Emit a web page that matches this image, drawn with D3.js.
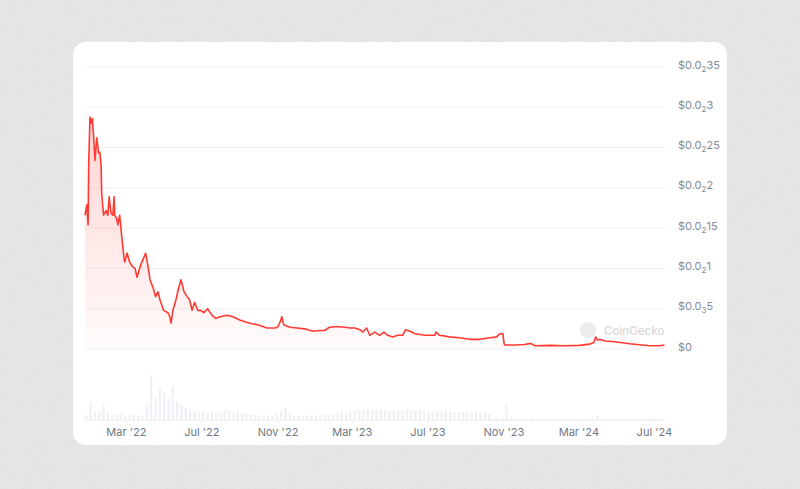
<!DOCTYPE html>
<html>
<head>
<meta charset="utf-8">
<script src="https://cdn.jsdelivr.net/npm/d3@7"></script>
<style>
  html, body { margin: 0; padding: 0; background: #e8e8e8; }
  svg { display: block; }
  text { font-family: Inter, "Noto Sans", sans-serif; }
</style>
</head>
<body>
<div class="vis"></div>
<script>
// price points (date, USD)
const priceDates = [
  '2021-12-25','2021-12-28','2021-12-30','2021-12-31','2022-01-02','2022-01-04','2022-01-06','2022-01-08',
  '2022-01-10','2022-01-13','2022-01-16','2022-01-18','2022-01-20','2022-01-21','2022-01-24','2022-01-28',
  '2022-01-31','2022-02-02','2022-02-05','2022-02-08','2022-02-10','2022-02-11','2022-02-14','2022-02-16',
  '2022-02-19','2022-02-21','2022-02-23','2022-02-26','2022-02-27','2022-03-03','2022-03-07','2022-03-12',
  '2022-03-16','2022-03-19','2022-03-24','2022-03-28','2022-04-02','2022-04-06','2022-04-09','2022-04-14',
  '2022-04-18','2022-04-22','2022-04-25','2022-05-01','2022-05-08','2022-05-11','2022-05-13','2022-05-16',
  '2022-05-21','2022-05-24','2022-05-29','2022-06-03','2022-06-08','2022-06-12','2022-06-16','2022-06-20',
  '2022-06-25','2022-06-30','2022-07-05','2022-07-11','2022-07-18','2022-07-24','2022-07-31','2022-08-11',
  '2022-08-21','2022-09-01','2022-09-17','2022-09-30','2022-10-15','2022-10-28','2022-11-01','2022-11-05',
  '2022-11-08','2022-11-11','2022-11-21','2022-12-02','2022-12-15','2022-12-28','2023-01-08','2023-01-16',
  '2023-01-24','2023-02-05','2023-02-18','2023-02-26','2023-03-06','2023-03-14','2023-03-19','2023-03-25',
  '2023-03-30','2023-04-07','2023-04-15','2023-04-22','2023-04-28','2023-05-06','2023-05-14','2023-05-22',
  '2023-05-27','2023-06-03','2023-06-11','2023-06-27','2023-07-13','2023-07-15','2023-07-21','2023-08-06',
  '2023-08-22','2023-09-08','2023-09-24','2023-10-10','2023-10-21','2023-10-26','2023-10-31','2023-11-02',
  '2023-11-03','2023-11-19','2023-12-05','2023-12-15','2023-12-22','2024-01-15','2024-02-08','2024-03-03',
  '2024-03-19','2024-03-26','2024-03-29','2024-04-01','2024-04-05','2024-04-13','2024-04-29','2024-05-23',
  '2024-06-24','2024-07-10','2024-07-18'
];
const priceValues = [
  0.00166,0.00179,0.00154,0.00230,0.00288,0.00280,0.00286,0.00263,
  0.00234,0.00262,0.00243,0.00244,0.00228,0.00193,0.00166,0.00172,
  0.00166,0.00189,0.00169,0.00166,0.00189,0.00166,0.00162,0.00154,
  0.00166,0.00150,0.00135,0.00113,0.00108,0.00119,0.00108,0.00102,
  0.00100,0.00089,0.00102,0.00110,0.00119,0.00102,0.00086,0.00076,
  0.00065,0.00071,0.00061,0.00048,0.00045,0.00040,0.00032,0.00048,
  0.00061,0.00072,0.00086,0.00071,0.00065,0.00061,0.00048,0.00058,
  0.00048,0.00048,0.00045,0.00050,0.00042,0.00038,0.00040,0.00042,
  0.00040,0.00036,0.00032,0.00030,0.00026,0.00026,0.00027,0.00033,
  0.00040,0.00030,0.00027,0.00026,0.00025,0.00022,0.00023,0.00023,
  0.00027,0.00028,0.00027,0.00026,0.00026,0.00024,0.00021,0.00026,
  0.00017,0.00021,0.00017,0.00021,0.00017,0.00015,0.00017,0.00017,
  0.00024,0.00022,0.00019,0.00017,0.00017,0.00021,0.00017,0.00015,
  0.00014,0.00012,0.00012,0.00014,0.00015,0.00019,0.00019,0.00007,
  0.00005,0.00005,0.000055,0.00007,0.00004,0.000045,0.00004,0.000045,
  0.00006,0.00008,0.00015,0.00011,0.00012,0.00010,0.00009,0.000065,
  0.00004,0.00004,0.00005
];

// weekly volume (relative units), starting week of 2021-12-25
const volumeStart = '2021-12-25';
const volumeValues = [
  5,18,8,9,14,8,6,5,6,4, 5,7,5,4,14,45,22,33,27,22,
  33,18,14,12,10,9,8,9,8,10, 8,7,9,9,7,8,6,6,5,5,
  5,4,5,4,6,9,12,6,4,4, 4,4,5,4,5,5,5,6,7,8,
  8,9,9,9,10,11,10,10,11,10, 9,10,10,11,10,9,9,10,9,9,
  8,9,8,9,8,8,8,8,8,7, 8,7,8,6,2,2,2,15,2,1.5,
  1.5,1.5,1.5,3,1.5,1.5,1.5,1.5,1.5,1.5, 1.5,1.5,1.5,1.5,1.5,1.5,1.5,1.5,4,2,
  1.5,1.5,1.5,1.5,1.5,1.5,1.5,1.5,1.5,1.5, 1.5,1.5,1.5,1.5
];

const yTicks = [0, 0.0005, 0.001, 0.0015, 0.002, 0.0025, 0.003, 0.0035];
const xTickDates = ['2022-03-01','2022-07-01','2022-11-01','2023-03-01','2023-07-01','2023-11-01','2024-03-01','2024-07-01'];

const parse = d3.timeParse('%Y-%m-%d');
const W = 800, H = 489;

const svg = d3.select('.vis').append('svg')
    .attr('width', W)
    .attr('height', H);

const defs = svg.append('defs');

// paper texture for the background
const noise = defs.append('filter').attr('id', 'paper')
    .attr('x', 0).attr('y', 0).attr('width', '100%').attr('height', '100%');
noise.append('feTurbulence').attr('type', 'fractalNoise').attr('baseFrequency', 0.75).attr('numOctaves', 3).attr('seed', 7);
noise.append('feColorMatrix').attr('type', 'matrix')
    .attr('values', '0 0 0 0 0.5  0 0 0 0 0.5  0 0 0 0 0.5  0 0 0 0.9 -0.3');

svg.append('rect').attr('width', W).attr('height', H).attr('fill', '#e7e7e7');
svg.append('rect').attr('width', W).attr('height', H).attr('filter', 'url(#paper)').attr('opacity', 0.35);

// card
svg.append('rect')
    .attr('x', 73).attr('y', 42)
    .attr('width', 654).attr('height', 403)
    .attr('rx', 13)
    .attr('fill', '#ffffff');

const x = d3.scaleTime()
    .domain([parse('2021-12-25'), parse('2024-07-19')])
    .range([85, 665]);
const y = d3.scaleLinear()
    .domain([0, 0.0035])
    .range([349, 67]);
const yVol = d3.scaleLinear()
    .domain([0, d3.max(volumeValues)])
    .range([420, 375]);

// gridlines
svg.append('g').selectAll('line')
    .data(yTicks)
    .enter().append('line')
    .attr('x1', 85).attr('x2', 665)
    .attr('y1', d => y(d)).attr('y2', d => y(d))
    .attr('stroke', '#eff1f4')
    .attr('stroke-width', 1);

// y labels with subscript zero count
const splitLabel = (v) => {
    if (v === 0) return null;
    const dec = v.toFixed(6).replace(/0+$/, '').split('.')[1];
    const zeros = dec.match(/^0*/)[0].length;
    return {zeros: zeros, rest: dec.slice(zeros)};
};
const yLab = svg.append('g').selectAll('text')
    .data(yTicks)
    .enter().append('text')
    .attr('x', 678)
    .attr('y', d => y(d) + 1.5)
    .attr('font-size', 11)
    .attr('fill', '#828a97');
yLab.each(function (d) {
    const t = d3.select(this);
    const p = splitLabel(d);
    if (!p) { t.text('$0'); return; }
    t.append('tspan').text('$0.0');
    t.append('tspan').attr('font-size', 8).attr('dy', 3).text(p.zeros);
    t.append('tspan').attr('dy', -3).text(p.rest);
});

// volume bars
const volStart = parse(volumeStart);
const volData = volumeValues.map((v, i) => ({date: d3.timeDay.offset(volStart, i * 7), v: v}));
const barW = (x(d3.timeDay.offset(volStart, 7)) - x(volStart)) * 0.55;
svg.append('g').selectAll('rect')
    .data(volData)
    .enter().append('rect')
    .attr('x', d => x(d.date))
    .attr('width', barW)
    .attr('y', d => yVol(d.v))
    .attr('height', d => 420 - yVol(d.v))
    .attr('fill', '#eef1f5');

// x axis
const xAxis = svg.append('g')
    .attr('transform', 'translate(0,420)')
    .call(d3.axisBottom(x)
        .tickValues(xTickDates.map(parse))
        .tickFormat(d3.timeFormat("%b '%y"))
        .tickSize(3)
        .tickPadding(5));
xAxis.select('.domain').attr('stroke', '#eef0f3').attr('d', 'M85,0.5H665');
xAxis.selectAll('.tick line').attr('stroke', '#e6e9ed');
xAxis.selectAll('.tick text')
    .attr('font-family', 'Inter, "Noto Sans", sans-serif')
    .attr('font-size', 11)
    .attr('fill', '#6f7784');

// watermark
const wm = svg.append('g');
wm.append('circle').attr('cx', 588).attr('cy', 330).attr('r', 8).attr('fill', '#ececec');
wm.append('text')
    .attr('x', 604).attr('y', 334.5)
    .attr('font-size', 11.5)
    .attr('font-weight', 500)
    .attr('fill', '#d9d9d9')
    .text('CoinGecko');

// price area + line
const priceData = priceDates.map((d, i) => ({date: parse(d), v: priceValues[i]}));

const grad = defs.append('linearGradient').attr('id', 'fade')
    .attr('gradientUnits', 'userSpaceOnUse')
    .attr('x1', 0).attr('x2', 0).attr('y1', y(0.0029)).attr('y2', y(0));
grad.append('stop').attr('offset', 0).attr('stop-color', '#ff3a33').attr('stop-opacity', 0.22);
grad.append('stop').attr('offset', 1).attr('stop-color', '#ff3a33').attr('stop-opacity', 0.02);

svg.append('path')
    .datum(priceData)
    .attr('fill', 'url(#fade)')
    .attr('d', d3.area().x(d => x(d.date)).y0(y(0)).y1(d => y(d.v)));

svg.append('path')
    .datum(priceData)
    .attr('fill', 'none')
    .attr('stroke', '#ff3a33')
    .attr('stroke-width', 1.6)
    .attr('stroke-linejoin', 'round')
    .attr('d', d3.line().x(d => x(d.date)).y(d => y(d.v)));
</script>
</body>
</html>
